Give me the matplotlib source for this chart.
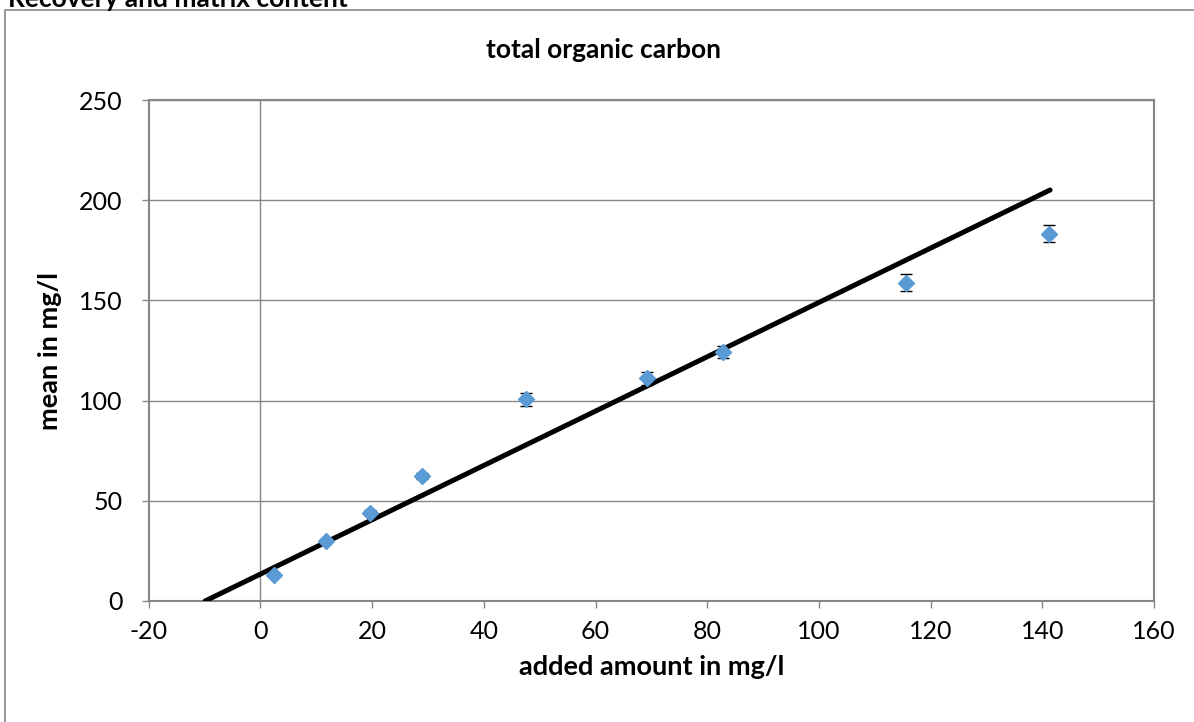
import matplotlib
matplotlib.use('Agg')
import matplotlib.pyplot as plt
from matplotlib.patches import Rectangle

plt.rcParams['font.family'] = ['Lato', 'DejaVu Sans']
plt.rcParams['axes.unicode_minus'] = False

# measured points (added amount vs mean) with standard deviation
added = [2.4, 11.8, 19.7, 29.0, 47.5, 69.3, 82.9, 115.6, 141.2]
mean = [13.0, 29.7, 44.1, 62.3, 100.6, 111.2, 124.3, 158.8, 183.3]
sd = [1.0, 1.0, 1.2, 1.5, 3.4, 3.3, 3.0, 4.2, 4.2]

# line drawn on the chart
line_x = [-9.9, 141.4]
line_y = [0.0, 205.1]

xticks = [-20, 0, 20, 40, 60, 80, 100, 120, 140, 160]
yticks = [0, 50, 100, 150, 200, 250]

grey = '#868686'

fig = plt.figure(figsize=(11.94, 7.22), dpi=100)
ax = fig.add_axes([148.7/1194, 1 - 601/722, (1154 - 148.7)/1194, (601 - 100)/722])

for y in yticks[1:]:
    ax.axhline(y, color=grey, lw=1.0, zorder=1)
ax.axvline(0, color=grey, lw=1.0, zorder=1)

ax.plot(line_x, line_y, color='black', lw=3.6, solid_capstyle='round', zorder=3)
ax.errorbar(added, mean, yerr=sd, fmt='D', color='#5B9BD5', markersize=8,
            ecolor='black', elinewidth=1.0, capsize=4.3, capthick=1.0, zorder=4)

ax.set_xlim(-20, 160)
ax.set_ylim(0, 250)
ax.set_xticks(xticks)
ax.set_yticks(yticks)
ax.tick_params(axis='both', direction='out', length=5, width=1.0, color=grey,
               labelsize=18)
ax.tick_params(axis='x', pad=9)
ax.tick_params(axis='y', pad=14)
for s in ax.spines.values():
    s.set_color(grey)
    s.set_linewidth(1.5)

ax.set_xlabel('added amount in mg/l', fontsize=19.5, fontweight='bold', labelpad=8)
ax.set_ylabel('mean in mg/l', fontsize=19.5, fontweight='bold', labelpad=12)
fig.text(603/1194, 1 - 50/722, 'total organic carbon', ha='center', va='center',
         fontsize=19, fontweight='bold')
fig.text(8/1194, 1 + 1/722, 'Recovery and matrix content', ha='left', va='center',
         fontsize=19, fontweight='bold')

fig.patches.append(Rectangle((5/1194, -0.1), 1.2, 1 - 10/722 + 0.1,
                             transform=fig.transFigure, fill=False,
                             edgecolor=grey, lw=1.2))

fig.savefig('out.png', dpi=100)
